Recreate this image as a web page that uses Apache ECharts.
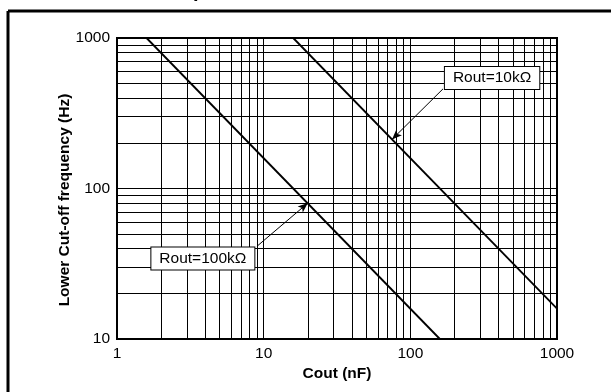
<!DOCTYPE html>
<html><head><meta charset="utf-8">
<script src="https://cdn.jsdelivr.net/npm/echarts@6/dist/echarts.min.js"></script>
<style>html,body{margin:0;padding:0;background:#fff}#c{width:611px;height:392px}</style>
</head><body><div id="c"></div>
<script>
// Data (Cout in nF, frequency in Hz)
var rout10k = [[15.9, 1000], [1000, 15.9]];
var rout100k = [[1.59, 1000], [159, 10]];
var xTickLabels = [1, 10, 100, 1000];
var yTickLabels = [10, 100, 1000];
var xMinor = [2,3,4,5,6,7,8,9,20,30,40,50,60,70,80,90,200,300,400,500,600,700,800,900];
var yMinor = [20,30,40,50,60,70,80,90,200,300,400,500,600,700,800,900];
var label10k = {text: 'Rout=10kΩ', box: [361, 543], tail: [167, 459], tip: [75, 212]};
var label100k = {text: 'Rout=100kΩ', box: [3.85, 34.3], tail: [9.0, 41.3], tip: [20, 80]};

var FONT = '"Liberation Sans", Arial, Helvetica, sans-serif';
var FS = 15.5;
var chart = echarts.init(document.getElementById('c'), null, {renderer: 'canvas'});

function annot(l) {
  return {
    name: l.text, type: 'line', data: [], silent: true,
    markPoint: {
      symbol: 'rect', symbolSize: 0, silent: true,
      data: [{coord: l.box}],
      label: {show: true, position: 'inside', formatter: l.text, color: '#000',
        fontFamily: FONT, fontSize: FS, backgroundColor: '#fff',
        borderColor: '#000', borderWidth: 1, padding: [3, 8, 3, 8]}
    },
    markLine: {
      silent: true, symbol: ['none', 'arrow'], symbolSize: [6, 10],
      label: {show: false},
      lineStyle: {color: '#000', width: 1, type: 'solid'},
      data: [[{coord: l.tail}, {coord: l.tip}]]
    }
  };
}

var option = {
  animation: false,
  backgroundColor: '#fff',
  grid: {left: 117, right: 54, top: 38, bottom: 53, show: true, borderColor: '#000', borderWidth: 2, backgroundColor: 'transparent'},
  graphic: [
    {type: 'line', shape: {x1: 8, y1: 11, x2: 611, y2: 11}, style: {stroke: '#000', lineWidth: 3}},
    {type: 'line', shape: {x1: 8, y1: 11, x2: 8, y2: 392}, style: {stroke: '#000', lineWidth: 3}},
    {type: 'text', left: 193, top: -19, style: {text: 'p', font: 'bold 20px ' + FONT, fill: '#000'}}
  ],
  xAxis: {
    type: 'log', logBase: 10, min: 1, max: 1000,
    name: 'Cout (nF)', nameLocation: 'middle', nameGap: 27, nameMoveOverlap: false,
    nameTextStyle: {fontFamily: FONT, fontSize: FS, fontWeight: 'bold', color: '#000'},
    axisLine: {show: true, lineStyle: {color: '#000', width: 2}},
    axisTick: {show: false},
    axisLabel: {color: '#000', fontFamily: FONT, fontSize: FS, margin: 7,
      formatter: function (v) { return xTickLabels.indexOf(Math.round(v)) >= 0 ? String(Math.round(v)) : ''; }},
    splitLine: {show: true, lineStyle: {color: '#000', width: 1}}
  },
  yAxis: {
    type: 'log', logBase: 10, min: 10, max: 1000,
    name: 'Lower Cut-off frequency (Hz)', nameLocation: 'middle', nameGap: 44, nameRotate: 90, nameMoveOverlap: false,
    nameTextStyle: {fontFamily: FONT, fontSize: FS, fontWeight: 'bold', color: '#000', padding: [0, 23, 0, 0]},
    axisLine: {show: true, lineStyle: {color: '#000', width: 2}},
    axisTick: {show: false},
    axisLabel: {color: '#000', fontFamily: FONT, fontSize: FS, margin: 7,
      formatter: function (v) { return yTickLabels.indexOf(Math.round(v)) >= 0 ? String(Math.round(v)) : ''; }},
    splitLine: {show: true, lineStyle: {color: '#000', width: 1}}
  },
  series: [
    {
      name: 'minor grid', type: 'line', data: [], silent: true,
      markLine: {
        silent: true, symbol: ['none', 'none'], label: {show: false},
        lineStyle: {color: '#000', width: 1, type: 'solid'},
        data: xMinor.map(function (v) { return {xAxis: v}; }).concat(yMinor.map(function (v) { return {yAxis: v}; }))
      }
    },
    {name: 'Rout=10kΩ', type: 'line', data: rout10k, showSymbol: false, lineStyle: {color: '#000', width: 1.8}, silent: true},
    {name: 'Rout=100kΩ', type: 'line', data: rout100k, showSymbol: false, lineStyle: {color: '#000', width: 1.8}, silent: true},
    annot(label10k),
    annot(label100k)
  ]
};
chart.setOption(option);
</script>
</body></html>
